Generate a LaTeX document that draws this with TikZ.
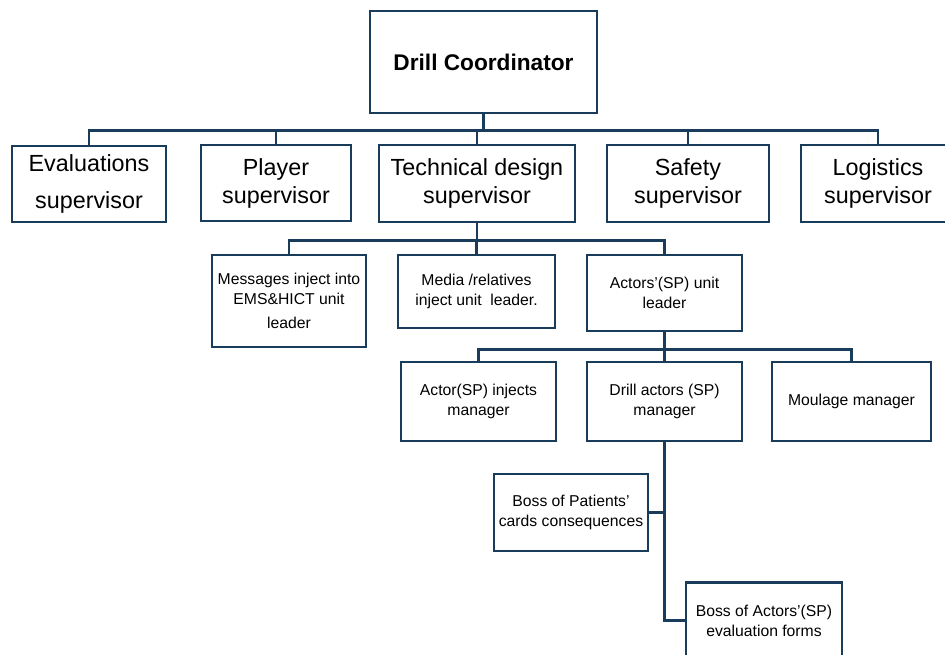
\documentclass[tikz,border=0pt]{standalone}
\usepackage{fontspec}
\setmainfont{Liberation Sans}
\definecolor{navy}{RGB}{24,60,90}
\tikzset{
  box/.style={draw=navy, line width=1.9pt, align=center, inner sep=1pt, text=black},
  big/.style={font=\fontsize{17.5}{21}\selectfont},
  small/.style={font=\fontsize{11.8}{15}\selectfont},
  link/.style={draw=navy, line width=1.9pt},
}
\begin{document}
\begin{tikzpicture}[x=0.75pt, y=-0.75pt]
\useasboundingbox (0,0) rectangle (945,655);
% top
\node[box, minimum width=170pt, minimum height=76.5pt, font=\fontsize{17}{20}\selectfont\bfseries] (dc) at (483.5,62) {Drill Coordinator};
% supervisors
\node[box, big, minimum width=115.5pt, minimum height=57pt] (eval) at (89,184) {Evaluations\\[7pt]supervisor};
\node[box, big, minimum width=112.5pt, minimum height=57pt] (player) at (276,183) {Player\\supervisor};
\node[box, big, minimum width=147pt, minimum height=57.75pt] (tech) at (477,183.5) {Technical design\\supervisor};
\node[box, big, minimum width=121.5pt, minimum height=57.75pt] (safety) at (688,183.5) {Safety\\supervisor};
\node[box, big, minimum width=115.5pt, minimum height=57.75pt] (logi) at (878,183.5) {Logistics\\supervisor};
% unit leaders
\node[box, small, minimum width=115.5pt, minimum height=69pt] (msg) at (289,301) {Messages inject into\\EMS\&HICT unit\\[3pt]leader};
\node[box, small, minimum width=117.75pt, minimum height=54.75pt] (media) at (476.5,291.5) {Media /relatives\\inject unit\ \ leader.};
\node[box, small, minimum width=116.25pt, minimum height=57pt] (actl) at (664.5,293) {Actors'(SP) unit\\leader};
% managers
\node[box, small, minimum width=116.25pt, minimum height=59.25pt] (inj) at (478.5,401.5) {Actor(SP) injects\\manager};
\node[box, small, minimum width=116.25pt, minimum height=59.25pt] (drill) at (664.5,401.5) {Drill actors (SP)\\manager};
\node[box, small, minimum width=119.25pt, minimum height=59.25pt] (moul) at (851.5,401.5) {Moulage manager};
% bosses
\node[box, small, minimum width=115.5pt, minimum height=57.75pt] (bossp) at (571,512.5) {Boss of Patients'\\cards consequences};
\node[box, small, minimum width=117pt, minimum height=57pt] (bossa) at (764,620.5) {Boss of Actors'(SP)\\evaluation forms};
% connectors
\foreach \n in {eval,player,tech,safety,logi}
  \draw[link] (dc.south) -- ++(0,16) -| (\n.north);
\foreach \n in {msg,media,actl}
  \draw[link] (tech.south) -- ++(0,17) -| (\n.north);
\foreach \n in {inj,drill,moul}
  \draw[link] (actl.south) -- ++(0,17) -| (\n.north);
\draw[link] (drill.south) |- (bossp.east);
\draw[link] (drill.south) |- (bossa.west);
\end{tikzpicture}
\end{document}
